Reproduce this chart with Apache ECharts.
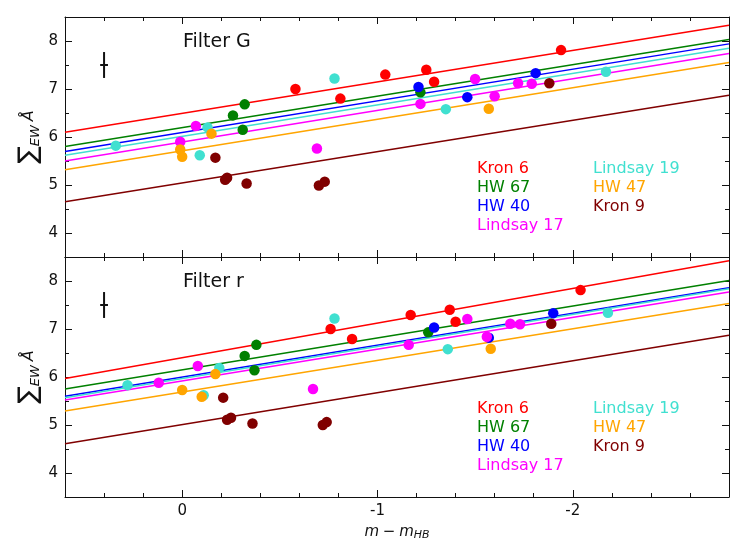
<!DOCTYPE html>
<html>
<head>
<meta charset="utf-8">
<script src="https://cdn.jsdelivr.net/npm/echarts@6/dist/echarts.min.js"></script>
<style>html,body{margin:0;padding:0;background:#fff}#c{width:747px;height:560px}</style>
</head>
<body>
<div id="c"></div>
<script>
// ---- data ----
const clusterNames = ['Kron 6', 'HW 67', 'HW 40', 'Lindsay 17', 'Lindsay 19', 'HW 47', 'Kron 9'];
const clusterColors = ['#ff0000', '#008000', '#0000ff', '#ff00ff', '#40e0d0', '#ffa500', '#800000'];

// x range and tick labels
const xMin = -2.8, xMax = 0.6;
const xMajorTicks = [0, -1, -2];
const yMin = 3.5, yMax = 8.5;
const yMajorTicks = [4, 5, 6, 7, 8];

// Filter G points [m - m_HB, sum EW]
const kron6G = [[-0.58, 7.00], [-0.81, 6.80], [-1.04, 7.30], [-1.25, 7.40], [-1.29, 7.15], [-1.94, 7.81]];
const hw67G = [[-0.32, 6.68], [-0.26, 6.45], [-0.31, 6.15], [-1.22, 6.93]];
const hw40G = [[-1.21, 7.04], [-1.46, 6.83], [-1.81, 7.33]];
const lindsay17G = [[-0.07, 6.23], [0.01, 5.90], [-0.69, 5.76], [-1.22, 6.69], [-1.50, 7.21], [-1.60, 6.85], [-1.72, 7.12], [-1.79, 7.11]];
const lindsay19G = [[0.34, 5.82], [-0.09, 5.62], [-0.13, 6.20], [-0.78, 7.22], [-1.35, 6.58], [-2.17, 7.36]];
const hw47G = [[-0.15, 6.07], [0.01, 5.74], [0.00, 5.59], [-1.57, 6.59]];
const kron9G = [[-0.17, 5.57], [-0.22, 5.11], [-0.23, 5.15], [-0.33, 5.03], [-0.70, 4.99], [-0.73, 5.07], [-1.88, 7.12]];

// Filter r points
const kron6R = [[-0.76, 7.00], [-0.87, 6.79], [-1.17, 7.29], [-1.37, 7.40], [-1.40, 7.15], [-2.04, 7.81]];
const hw67R = [[-0.38, 6.67], [-0.32, 6.44], [-0.37, 6.14], [-1.26, 6.93]];
const hw40R = [[-1.29, 7.03], [-1.57, 6.82], [-1.90, 7.33]];
const lindsay17R = [[0.12, 5.88], [-0.08, 6.23], [-0.67, 5.75], [-1.16, 6.67], [-1.46, 7.21], [-1.56, 6.84], [-1.68, 7.11], [-1.73, 7.10]];
const lindsay19R = [[0.28, 5.83], [-0.11, 5.62], [-0.19, 6.19], [-0.78, 7.22], [-1.36, 6.58], [-2.18, 7.34]];
const hw47R = [[0.00, 5.73], [-0.10, 5.59], [-0.17, 6.06], [-1.58, 6.59]];
const kron9R = [[-0.21, 5.57], [-0.23, 5.11], [-0.25, 5.15], [-0.36, 5.03], [-0.72, 5.00], [-0.74, 5.06], [-1.89, 7.11]];

// fitted lines: values at the two x ends (x = 0.6 and x = -2.8), in cluster order
const lineEndsX = [0.6, -2.8];
const lineStartG = [6.10, 5.80, 5.70, 5.50, 5.62, 5.32, 4.65];
const lineEndG = [8.33, 8.03, 7.94, 7.74, 7.85, 7.55, 6.87];
const lineStartR = [5.97, 5.75, 5.60, 5.52, 5.57, 5.29, 4.61];
const lineEndR = [8.42, 8.01, 7.86, 7.77, 7.84, 7.53, 6.87];

// typical error bar
const errBarV = [[0.4, 7.23], [0.4, 7.77]];
const errBarH = [[0.42, 7.5], [0.38, 7.5]];

const pointsG = [kron6G, hw67G, hw40G, lindsay17G, lindsay19G, hw47G, kron9G];
const pointsR = [kron6R, hw67R, hw40R, lindsay17R, lindsay19R, hw47R, kron9R];

// ---- chart ----
const FONT = 'DejaVu Sans';
const INK = '#111';
const chart = echarts.init(document.getElementById('c'), null, {renderer: 'canvas'});

const isInt = v => Math.abs(v - Math.round(v)) < 1e-6;

function xAxesFor(grid, showLabels) {
  const base = {
    type: 'value', gridIndex: grid, min: xMin, max: xMax, inverse: true,
    splitLine: {show: false}
  };
  const axes = [];
  ['bottom', 'top'].forEach(pos => {
    axes.push(Object.assign({}, base, {
      position: pos, interval: 0.2,
      axisLine: {show: true, onZero: false, lineStyle: {color: INK, width: 1}},
      axisTick: {show: true, inside: true, length: 4, lineStyle: {color: INK, width: 1}},
      axisLabel: {
        show: showLabels && pos === 'bottom', margin: 7, color: INK, fontFamily: FONT, fontSize: 15,
        formatter: v => isInt(v) ? String(Math.round(v)).replace('-0', '0') : ''
      },
      name: (showLabels && pos === 'bottom') ? '{i|m} {n|\u2212} {i|m}{s|HB}' : '',
      nameLocation: 'middle', nameGap: 26,
      nameTextStyle: {
        color: INK, fontFamily: FONT,
        rich: {
          i: {fontSize: 15, fontStyle: 'italic', fontFamily: FONT, color: INK, lineHeight: 18, verticalAlign: 'middle'},
          n: {fontSize: 15, fontFamily: FONT, color: INK, lineHeight: 18, verticalAlign: 'middle'},
          s: {fontSize: 11, fontStyle: 'italic', fontFamily: FONT, color: INK, lineHeight: 11, verticalAlign: 'bottom'}
        }
      }
    }));
    axes.push(Object.assign({}, base, {
      position: pos,
      axisLine: {show: false, onZero: false},
      axisTick: {show: true, inside: true, length: 7, customValues: xMajorTicks, lineStyle: {color: INK, width: 1}},
      axisLabel: {show: false}
    }));
  });
  return axes;
}

function yAxesFor(grid) {
  const base = {
    type: 'value', gridIndex: grid, min: yMin, max: yMax,
    splitLine: {show: false}
  };
  const axes = [];
  ['left', 'right'].forEach(pos => {
    axes.push(Object.assign({}, base, {
      position: pos, interval: 0.5,
      axisLine: {show: true, onZero: false, lineStyle: {color: INK, width: 1}},
      axisTick: {show: true, inside: true, length: 4, lineStyle: {color: INK, width: 1}},
      axisLabel: {
        show: pos === 'left', margin: 7, color: INK, fontFamily: FONT, fontSize: 15,
        formatter: v => isInt(v) ? String(Math.round(v)) : ''
      },
      name: pos === 'left' ? '{s|\u2211}{sub|EW} {a|\u00C5}' : '',
      nameLocation: 'middle', nameGap: 23, nameRotate: 90, nameMoveOverlap: false,
      nameTextStyle: {
        color: INK, fontFamily: FONT,
        rich: {
          s: {fontSize: 26, fontFamily: FONT, color: INK, lineHeight: 26, verticalAlign: 'middle'},
          sub: {fontSize: 13, fontStyle: 'italic', fontFamily: FONT, color: INK, lineHeight: 13, verticalAlign: 'bottom'},
          a: {fontSize: 16, fontStyle: 'italic', fontFamily: FONT, color: INK, lineHeight: 26, verticalAlign: 'middle'}
        }
      }
    }));
    axes.push(Object.assign({}, base, {
      position: pos,
      axisLine: {show: false, onZero: false},
      axisTick: {show: true, inside: true, length: 7, customValues: yMajorTicks, lineStyle: {color: INK, width: 1}},
      axisLabel: {show: false}
    }));
  });
  return axes;
}

function seriesFor(grid, points, lineStart, lineEnd) {
  const axIdx = grid * 4;
  const out = [];
  for (let i = 0; i < clusterNames.length; i++) {
    out.push({
      type: 'line', name: clusterNames[i] + ' fit', xAxisIndex: axIdx, yAxisIndex: axIdx,
      data: [[lineEndsX[0], lineStart[i]], [lineEndsX[1], lineEnd[i]]],
      symbol: 'none', silent: true, z: 2,
      lineStyle: {color: clusterColors[i], width: 1.5}
    });
  }
  for (let i = 0; i < clusterNames.length; i++) {
    out.push({
      type: 'scatter', name: clusterNames[i], xAxisIndex: axIdx, yAxisIndex: axIdx,
      data: points[i], symbol: 'circle', symbolSize: 10.5, z: 3 + i,
      itemStyle: {color: clusterColors[i], opacity: 1}
    });
  }
  [errBarV, errBarH].forEach(d => out.push({
    type: 'line', xAxisIndex: axIdx, yAxisIndex: axIdx, data: d, symbol: 'none', silent: true, z: 12,
    lineStyle: {color: INK, width: 2}
  }));
  return out;
}

function textEl(txt, x, y, color, size) {
  return {type: 'text', left: x, top: y - size * 0.6, silent: true,
    style: {text: txt, fill: color, font: size + 'px "' + FONT + '"'}};
}

const graphics = [];
[0, 240].forEach((dy, p) => {
  graphics.push(textEl(p === 0 ? 'Filter G' : 'Filter r', 183, 44 + dy, INK, 19));
  const col1 = [0, 1, 2, 3], col2 = [4, 5, 6];
  col1.forEach((ci, r) => graphics.push(textEl(clusterNames[ci], 477, 170 + dy + r * 19.2, clusterColors[ci], 16)));
  col2.forEach((ci, r) => graphics.push(textEl(clusterNames[ci], 593, 170 + dy + r * 19.2, clusterColors[ci], 16)));
});

chart.setOption({
  animation: false,
  backgroundColor: '#fff',
  grid: [
    {left: 65, width: 664, top: 17, height: 240},
    {left: 65, width: 664, top: 257, height: 240}
  ],
  xAxis: [...xAxesFor(0, false), ...xAxesFor(1, true)],
  yAxis: [...yAxesFor(0), ...yAxesFor(1)],
  series: [...seriesFor(0, pointsG, lineStartG, lineEndG), ...seriesFor(1, pointsR, lineStartR, lineEndR)],
  graphic: graphics
});
</script>
</body>
</html>
